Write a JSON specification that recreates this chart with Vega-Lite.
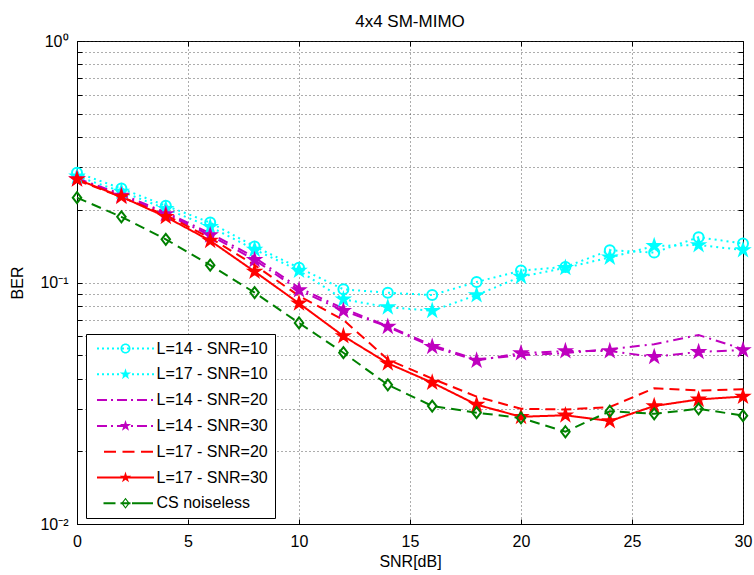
{
  "$schema": "https://vega.github.io/schema/vega-lite/v6.json",
  "width": 666,
  "height": 483,
  "autosize": {"type": "none"},
  "padding": {"left": 77, "top": 41, "right": 11, "bottom": 51},
  "background": "white",
  "title": {"text": "4x4 SM-MIMO", "fontSize": 17, "font": "Liberation Sans", "fontWeight": "normal", "color": "black", "offset": 2},
  "config": {
    "view": {"stroke": "black", "strokeWidth": 1},
    "axis": {
      "domainColor": "black",
      "tickColor": "black",
      "labelColor": "black",
      "titleColor": "black",
      "labelFont": "Liberation Sans",
      "titleFont": "Liberation Sans",
      "labelFontSize": 16,
      "titleFontSize": 16,
      "titleFontWeight": "normal",
      "gridColor": "#333333",
      "gridDash": [1, 3],
      "gridOpacity": 0.8,
      "labelOverlap": false,
      "labelFlush": false
    }
  },
  "data": {
    "values": [
      {"series": "L=14 - SNR=10", "snr": 0, "ber": 0.285},
      {"series": "L=14 - SNR=10", "snr": 2, "ber": 0.245},
      {"series": "L=14 - SNR=10", "snr": 4, "ber": 0.208},
      {"series": "L=14 - SNR=10", "snr": 6, "ber": 0.177},
      {"series": "L=14 - SNR=10", "snr": 8, "ber": 0.141},
      {"series": "L=14 - SNR=10", "snr": 10, "ber": 0.115},
      {"series": "L=14 - SNR=10", "snr": 12, "ber": 0.0937},
      {"series": "L=14 - SNR=10", "snr": 14, "ber": 0.0907},
      {"series": "L=14 - SNR=10", "snr": 16, "ber": 0.0887},
      {"series": "L=14 - SNR=10", "snr": 18, "ber": 0.1005},
      {"series": "L=14 - SNR=10", "snr": 20, "ber": 0.112},
      {"series": "L=14 - SNR=10", "snr": 22, "ber": 0.116},
      {"series": "L=14 - SNR=10", "snr": 24, "ber": 0.136},
      {"series": "L=14 - SNR=10", "snr": 26, "ber": 0.133},
      {"series": "L=14 - SNR=10", "snr": 28, "ber": 0.154},
      {"series": "L=14 - SNR=10", "snr": 30, "ber": 0.145},
      {"series": "L=17 - SNR=10", "snr": 0, "ber": 0.275},
      {"series": "L=17 - SNR=10", "snr": 2, "ber": 0.238},
      {"series": "L=17 - SNR=10", "snr": 4, "ber": 0.202},
      {"series": "L=17 - SNR=10", "snr": 6, "ber": 0.17},
      {"series": "L=17 - SNR=10", "snr": 8, "ber": 0.137},
      {"series": "L=17 - SNR=10", "snr": 10, "ber": 0.112},
      {"series": "L=17 - SNR=10", "snr": 12, "ber": 0.0852},
      {"series": "L=17 - SNR=10", "snr": 14, "ber": 0.079},
      {"series": "L=17 - SNR=10", "snr": 16, "ber": 0.0764},
      {"series": "L=17 - SNR=10", "snr": 18, "ber": 0.0887},
      {"series": "L=17 - SNR=10", "snr": 20, "ber": 0.1057},
      {"series": "L=17 - SNR=10", "snr": 22, "ber": 0.115},
      {"series": "L=17 - SNR=10", "snr": 24, "ber": 0.127},
      {"series": "L=17 - SNR=10", "snr": 26, "ber": 0.1417},
      {"series": "L=17 - SNR=10", "snr": 28, "ber": 0.143},
      {"series": "L=17 - SNR=10", "snr": 30, "ber": 0.1363},
      {"series": "L=14 - SNR=20", "snr": 0, "ber": 0.27},
      {"series": "L=14 - SNR=20", "snr": 2, "ber": 0.232},
      {"series": "L=14 - SNR=20", "snr": 4, "ber": 0.195},
      {"series": "L=14 - SNR=20", "snr": 6, "ber": 0.16},
      {"series": "L=14 - SNR=20", "snr": 8, "ber": 0.127},
      {"series": "L=14 - SNR=20", "snr": 10, "ber": 0.095},
      {"series": "L=14 - SNR=20", "snr": 12, "ber": 0.078},
      {"series": "L=14 - SNR=20", "snr": 14, "ber": 0.066},
      {"series": "L=14 - SNR=20", "snr": 16, "ber": 0.055},
      {"series": "L=14 - SNR=20", "snr": 18, "ber": 0.048},
      {"series": "L=14 - SNR=20", "snr": 20, "ber": 0.05},
      {"series": "L=14 - SNR=20", "snr": 22, "ber": 0.051},
      {"series": "L=14 - SNR=20", "snr": 24, "ber": 0.053},
      {"series": "L=14 - SNR=20", "snr": 26, "ber": 0.0555},
      {"series": "L=14 - SNR=20", "snr": 28, "ber": 0.0606},
      {"series": "L=14 - SNR=20", "snr": 30, "ber": 0.053},
      {"series": "L=14 - SNR=30", "snr": 0, "ber": 0.268},
      {"series": "L=14 - SNR=30", "snr": 2, "ber": 0.229},
      {"series": "L=14 - SNR=30", "snr": 4, "ber": 0.192},
      {"series": "L=14 - SNR=30", "snr": 6, "ber": 0.157},
      {"series": "L=14 - SNR=30", "snr": 8, "ber": 0.124},
      {"series": "L=14 - SNR=30", "snr": 10, "ber": 0.093},
      {"series": "L=14 - SNR=30", "snr": 12, "ber": 0.0764},
      {"series": "L=14 - SNR=30", "snr": 14, "ber": 0.0656},
      {"series": "L=14 - SNR=30", "snr": 16, "ber": 0.0542},
      {"series": "L=14 - SNR=30", "snr": 18, "ber": 0.0475},
      {"series": "L=14 - SNR=30", "snr": 20, "ber": 0.051},
      {"series": "L=14 - SNR=30", "snr": 22, "ber": 0.052},
      {"series": "L=14 - SNR=30", "snr": 24, "ber": 0.052},
      {"series": "L=14 - SNR=30", "snr": 26, "ber": 0.0492},
      {"series": "L=14 - SNR=30", "snr": 28, "ber": 0.0516},
      {"series": "L=14 - SNR=30", "snr": 30, "ber": 0.0525},
      {"series": "L=17 - SNR=20", "snr": 0, "ber": 0.265},
      {"series": "L=17 - SNR=20", "snr": 2, "ber": 0.226},
      {"series": "L=17 - SNR=20", "snr": 4, "ber": 0.19},
      {"series": "L=17 - SNR=20", "snr": 6, "ber": 0.153},
      {"series": "L=17 - SNR=20", "snr": 8, "ber": 0.118},
      {"series": "L=17 - SNR=20", "snr": 10, "ber": 0.088},
      {"series": "L=17 - SNR=20", "snr": 12, "ber": 0.07},
      {"series": "L=17 - SNR=20", "snr": 14, "ber": 0.048},
      {"series": "L=17 - SNR=20", "snr": 16, "ber": 0.04},
      {"series": "L=17 - SNR=20", "snr": 18, "ber": 0.0337},
      {"series": "L=17 - SNR=20", "snr": 20, "ber": 0.03},
      {"series": "L=17 - SNR=20", "snr": 22, "ber": 0.0298},
      {"series": "L=17 - SNR=20", "snr": 24, "ber": 0.0305},
      {"series": "L=17 - SNR=20", "snr": 26, "ber": 0.0365},
      {"series": "L=17 - SNR=20", "snr": 28, "ber": 0.0357},
      {"series": "L=17 - SNR=20", "snr": 30, "ber": 0.0361},
      {"series": "L=17 - SNR=30", "snr": 0, "ber": 0.2675},
      {"series": "L=17 - SNR=30", "snr": 2, "ber": 0.2266},
      {"series": "L=17 - SNR=30", "snr": 4, "ber": 0.187},
      {"series": "L=17 - SNR=30", "snr": 6, "ber": 0.149},
      {"series": "L=17 - SNR=30", "snr": 8, "ber": 0.111},
      {"series": "L=17 - SNR=30", "snr": 10, "ber": 0.082},
      {"series": "L=17 - SNR=30", "snr": 12, "ber": 0.06},
      {"series": "L=17 - SNR=30", "snr": 14, "ber": 0.0463},
      {"series": "L=17 - SNR=30", "snr": 16, "ber": 0.0385},
      {"series": "L=17 - SNR=30", "snr": 18, "ber": 0.0312},
      {"series": "L=17 - SNR=30", "snr": 20, "ber": 0.0278},
      {"series": "L=17 - SNR=30", "snr": 22, "ber": 0.0282},
      {"series": "L=17 - SNR=30", "snr": 24, "ber": 0.0267},
      {"series": "L=17 - SNR=30", "snr": 26, "ber": 0.0308},
      {"series": "L=17 - SNR=30", "snr": 28, "ber": 0.0328},
      {"series": "L=17 - SNR=30", "snr": 30, "ber": 0.0337},
      {"series": "CS noiseless", "snr": 0, "ber": 0.2245},
      {"series": "CS noiseless", "snr": 2, "ber": 0.187},
      {"series": "CS noiseless", "snr": 4, "ber": 0.151},
      {"series": "CS noiseless", "snr": 6, "ber": 0.118},
      {"series": "CS noiseless", "snr": 8, "ber": 0.0908},
      {"series": "CS noiseless", "snr": 10, "ber": 0.068},
      {"series": "CS noiseless", "snr": 12, "ber": 0.0512},
      {"series": "CS noiseless", "snr": 14, "ber": 0.0377},
      {"series": "CS noiseless", "snr": 16, "ber": 0.0308},
      {"series": "CS noiseless", "snr": 18, "ber": 0.0289},
      {"series": "CS noiseless", "snr": 20, "ber": 0.0275},
      {"series": "CS noiseless", "snr": 22, "ber": 0.0241},
      {"series": "CS noiseless", "snr": 24, "ber": 0.0293},
      {"series": "CS noiseless", "snr": 26, "ber": 0.0286},
      {"series": "CS noiseless", "snr": 28, "ber": 0.03},
      {"series": "CS noiseless", "snr": 30, "ber": 0.0281}
    ]
  },
  "layer": [
    {
      "mark": {"type": "line", "strokeWidth": 2},
      "encoding": {
        "x": {
          "field": "snr", "type": "quantitative",
          "scale": {"domain": [0, 30], "nice": false, "zero": false},
          "axis": {"orient": "bottom", "values": [0, 5, 10, 15, 20, 25, 30], "grid": true, "tickSize": -5, "labelPadding": 14, "title": "SNR[dB]", "titlePadding": 4}
        },
        "y": {
          "field": "ber", "type": "quantitative",
          "scale": {"type": "log", "domain": [0.01, 1], "nice": false},
          "axis": {
            "orient": "left",
            "values": [0.01, 0.02, 0.03, 0.04, 0.05, 0.06, 0.07, 0.08, 0.09, 0.1, 0.2, 0.3, 0.4, 0.5, 0.6, 0.7, 0.8, 0.9, 1],
            "labelExpr": "datum.value == 1 ? '10⁰' : (datum.value == 0.1 ? '10⁻¹' : (datum.value == 0.01 ? '10⁻²' : ''))",
            "grid": true, "tickSize": -5, "labelPadding": 14, "title": "BER", "titlePadding": 14
          }
        },
        "color": {
          "field": "series", "type": "nominal",
          "scale": {
            "domain": ["L=14 - SNR=10", "L=17 - SNR=10", "L=14 - SNR=20", "L=14 - SNR=30", "L=17 - SNR=20", "L=17 - SNR=30", "CS noiseless"],
            "range": ["#00FFFF", "#00FFFF", "#BF00BF", "#BF00BF", "#FF0000", "#FF0000", "#008000"]
          },
          "legend": {
            "title": null, "orient": "none", "direction": "vertical", "legendX": 9, "legendY": 293,
            "fillColor": "white", "strokeColor": "black", "padding": 6.5,
            "symbolSize": 100, "symbolStrokeWidth": 0,
            "symbolOffset": 25, "labelOffset": 23,
            "labelFont": "Liberation Sans", "labelFontSize": 16, "labelColor": "black", "labelLimit": 300, "rowPadding": 9.8,
            "encode": {
              "symbols": {
                "update": {
                  "shape": {"signal": "datum.value == 'L=14 - SNR=10' ? 'M-5.7,-0.2h0.4v0.4h-0.4ZM-4.7,-0.2h0.4v0.4h-0.4ZM-3.7,-0.2h0.4v0.4h-0.4ZM-2.7,-0.2h0.4v0.4h-0.4ZM-1.7,-0.2h0.4v0.4h-0.4ZM-0.7,-0.2h0.4v0.4h-0.4ZM0.3,-0.2h0.4v0.4h-0.4ZM1.3,-0.2h0.4v0.4h-0.4ZM2.3,-0.2h0.4v0.4h-0.4ZM3.3,-0.2h0.4v0.4h-0.4ZM4.3,-0.2h0.4v0.4h-0.4ZM5.3,-0.2h0.4v0.4h-0.4ZM1,0A1,1,0,1,1,-1,0A1,1,0,1,1,1,0ZM0.7,0A0.7,0.7,0,1,0,-0.7,0A0.7,0.7,0,1,0,0.7,0Z' : (datum.value == 'L=17 - SNR=10' ? 'M-5.7,-0.2h0.4v0.4h-0.4ZM-4.7,-0.2h0.4v0.4h-0.4ZM-3.7,-0.2h0.4v0.4h-0.4ZM-2.7,-0.2h0.4v0.4h-0.4ZM-1.7,-0.2h0.4v0.4h-0.4ZM-0.7,-0.2h0.4v0.4h-0.4ZM0.3,-0.2h0.4v0.4h-0.4ZM1.3,-0.2h0.4v0.4h-0.4ZM2.3,-0.2h0.4v0.4h-0.4ZM3.3,-0.2h0.4v0.4h-0.4ZM4.3,-0.2h0.4v0.4h-0.4ZM5.3,-0.2h0.4v0.4h-0.4ZM0,-1.2L0.269,-0.371L1.141,-0.371L0.436,0.142L0.705,0.971L0,0.458L-0.705,0.971L-0.436,0.142L-1.141,-0.371L-0.269,-0.371Z' : (datum.value == 'L=14 - SNR=20' ? 'M-5.7,-0.2h2v0.4h-2ZM-2.9,-0.2h0.4v0.4h-0.4ZM-1.7,-0.2h2v0.4h-2ZM1.1,-0.2h0.4v0.4h-0.4ZM2.3,-0.2h2v0.4h-2ZM5.1,-0.2h0.4v0.4h-0.4Z' : (datum.value == 'L=14 - SNR=30' ? 'M-5.7,-0.2h2v0.4h-2ZM-2.9,-0.2h0.4v0.4h-0.4ZM-1.7,-0.2h2v0.4h-2ZM1.1,-0.2h0.4v0.4h-0.4ZM2.3,-0.2h2v0.4h-2ZM5.1,-0.2h0.4v0.4h-0.4ZM0,-1.2L0.269,-0.371L1.141,-0.371L0.436,0.142L0.705,0.971L0,0.458L-0.705,0.971L-0.436,0.142L-1.141,-0.371L-0.269,-0.371Z' : (datum.value == 'L=17 - SNR=20' ? 'M-4.3,-0.2h2.4v0.4h-2.4ZM-0.6,-0.2h2.4v0.4h-2.4ZM3.1,-0.2h2.4v0.4h-2.4Z' : (datum.value == 'L=17 - SNR=30' ? 'M-5.7,-0.2h11.4v0.4h-11.4ZM0,-1.2L0.269,-0.371L1.141,-0.371L0.436,0.142L0.705,0.971L0,0.458L-0.705,0.971L-0.436,0.142L-1.141,-0.371L-0.269,-0.371Z' : 'M-4.4,-0.2h2.4v0.4h-2.4ZM-1,-0.2h2v0.4h-2ZM1.3,-0.2h4.2v0.4h-4.2ZM0,-1.1L0.85,0L0,1.1L-0.85,0ZM0,-0.75L-0.55,0L0,0.75L0.55,0Z')))))"},
                  "fill": {"signal": "(datum.value == 'L=14 - SNR=10' || datum.value == 'L=17 - SNR=10') ? '#00FFFF' : ((datum.value == 'L=14 - SNR=20' || datum.value == 'L=14 - SNR=30') ? '#BF00BF' : ((datum.value == 'L=17 - SNR=20' || datum.value == 'L=17 - SNR=30') ? '#FF0000' : '#008000'))"},
                  "strokeWidth": {"value": 0}
                }
              }
            }
          }
        },
        "strokeDash": {
          "field": "series", "type": "nominal",
          "scale": {
            "domain": ["L=14 - SNR=10", "L=17 - SNR=10", "L=14 - SNR=20", "L=14 - SNR=30", "L=17 - SNR=20", "L=17 - SNR=30", "CS noiseless", "none"],
            "range": [[2, 4], [2, 4], [10, 5, 2, 5], [10, 5, 2, 5], [10, 6], [1, 0], [10, 6], [1, 0]]
          },
          "legend": null
        }
      }
    },
    {
      "transform": [{"filter": {"field": "series", "oneOf": ["L=14 - SNR=10", "L=17 - SNR=10", "L=14 - SNR=30", "L=17 - SNR=30", "CS noiseless"]}}],
      "mark": {"type": "point", "filled": true, "size": 100, "strokeWidth": 2, "opacity": 1},
      "encoding": {
        "x": {
          "field": "snr", "type": "quantitative",
          "axis": {"orient": "top", "values": [0, 5, 10, 15, 20, 25, 30], "labels": false, "grid": false, "domain": false, "tickSize": -5, "title": null}
        },
        "y": {
          "field": "ber", "type": "quantitative",
          "axis": {"orient": "right", "values": [0.01, 0.02, 0.03, 0.04, 0.05, 0.06, 0.07, 0.08, 0.09, 0.1, 0.2, 0.3, 0.4, 0.5, 0.6, 0.7, 0.8, 0.9, 1], "labels": false, "grid": false, "domain": false, "tickSize": -5, "title": null}
        },
        "shape": {
          "field": "series", "type": "nominal",
          "scale": {
            "domain": ["L=14 - SNR=10", "L=17 - SNR=10", "L=14 - SNR=20", "L=14 - SNR=30", "L=17 - SNR=20", "L=17 - SNR=30", "CS noiseless", "none"],
            "range": [
              "M1,0A1,1,0,1,1,-1,0A1,1,0,1,1,1,0Z",
              "M0,-1.2L0.269,-0.371L1.141,-0.371L0.436,0.142L0.705,0.971L0,0.458L-0.705,0.971L-0.436,0.142L-1.141,-0.371L-0.269,-0.371Z",
              "M0,0",
              "M0,-1.2L0.269,-0.371L1.141,-0.371L0.436,0.142L0.705,0.971L0,0.458L-0.705,0.971L-0.436,0.142L-1.141,-0.371L-0.269,-0.371Z",
              "M0,0",
              "M0,-1.2L0.269,-0.371L1.141,-0.371L0.436,0.142L0.705,0.971L0,0.458L-0.705,0.971L-0.436,0.142L-1.141,-0.371L-0.269,-0.371Z",
              "M0,-1.1L0.85,0L0,1.1L-0.85,0Z",
              "M0,0"
            ]
          },
          "legend": null
        },
        "fill": {
          "field": "series", "type": "nominal",
          "scale": {
            "domain": ["L=14 - SNR=10", "L=17 - SNR=10", "L=14 - SNR=20", "L=14 - SNR=30", "L=17 - SNR=20", "L=17 - SNR=30", "CS noiseless", "none"],
            "range": ["transparent", "#00FFFF", "transparent", "#BF00BF", "transparent", "#FF0000", "transparent", "transparent"]
          },
          "legend": null
        },
        "stroke": {
          "field": "series", "type": "nominal",
          "scale": {
            "domain": ["L=14 - SNR=10", "L=17 - SNR=10", "L=14 - SNR=20", "L=14 - SNR=30", "L=17 - SNR=20", "L=17 - SNR=30", "CS noiseless", "none"],
            "range": ["#00FFFF", "#00FFFF", "#BF00BF", "#BF00BF", "#FF0000", "#FF0000", "#008000", "#000000"]
          },
          "legend": null
        }
      }
    }
  ],
  "resolve": {"axis": {"x": "independent", "y": "independent"}}
}
